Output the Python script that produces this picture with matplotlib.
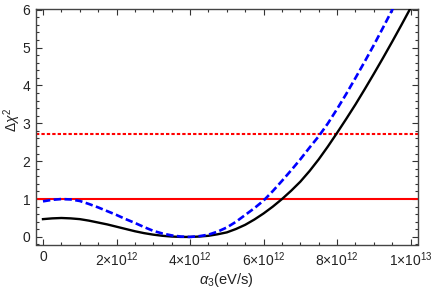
import numpy as np
import matplotlib
matplotlib.use("Agg")
import matplotlib.pyplot as plt
from matplotlib.ticker import MultipleLocator, FixedLocator

# alpha_3 grid (units of 1e12 eV/s)
alpha = [0.0, 0.25, 0.5, 0.75, 1.0, 1.25, 1.5, 1.75, 2.0, 2.25, 2.5, 2.75,
         3.0, 3.25, 3.5, 3.75, 4.0, 4.25, 4.5, 4.75, 5.0, 5.25, 5.5, 5.75,
         6.0, 6.25, 6.5, 6.75, 7.0, 7.25, 7.5, 7.75, 8.0, 8.25, 8.5, 8.75,
         9.0, 9.25, 9.5, 9.75, 10.0]
chi_black = [0.47, 0.49, 0.50, 0.49, 0.47, 0.43, 0.38, 0.33, 0.27, 0.21, 0.15,
             0.10, 0.06, 0.03, 0.01, 0.00, 0.00, 0.01, 0.03, 0.07, 0.12, 0.21,
             0.32, 0.46, 0.62, 0.80, 1.00, 1.22, 1.46, 1.74, 2.05, 2.39, 2.75,
             3.12, 3.50, 3.90, 4.31, 4.73, 5.16, 5.60, 6.05]
chi_blue = [0.94, 0.98, 1.00, 0.99, 0.95, 0.87, 0.78, 0.68, 0.58, 0.47, 0.37,
            0.26, 0.16, 0.09, 0.04, 0.01, 0.00, 0.02, 0.06, 0.14, 0.25, 0.40,
            0.58, 0.76, 0.96, 1.21, 1.48, 1.76, 2.05, 2.36, 2.66, 3.00, 3.38,
            3.78, 4.20, 4.63, 5.07, 5.53, 6.00, 6.50, 7.00]
levels = [1.0, 2.71]
xtick_vals = [0, 2, 4, 6, 8, 10]
xtick_labels = ["0", r"2$\times$10$^{12}$", r"4$\times$10$^{12}$",
                r"6$\times$10$^{12}$", r"8$\times$10$^{12}$", r"1$\times$10$^{13}$"]

plt.rcParams['font.family'] = ['Liberation Sans', 'DejaVu Sans']
plt.rcParams['mathtext.fontset'] = 'custom'
plt.rcParams['mathtext.rm'] = 'Liberation Sans'
plt.rcParams['mathtext.it'] = 'Liberation Sans:italic'

fig = plt.figure(figsize=(4.36, 2.92), dpi=100)
ax = fig.add_axes([36/436, 1 - 244.5/292, (418-36)/436, (244.5-9)/292])

x = np.array(alpha)
ax.plot(x, chi_black, color='black', lw=1.7, zorder=3)
ax.plot(x, chi_blue, color='#0000ff', lw=1.9, ls=(0, (2.8, 1.3)), zorder=3)
ax.axhline(levels[0], color='#ff0000', lw=1.5, zorder=2)
ax.axhline(levels[1], color='#ff0000', lw=1.5, ls=(0, (1.6, 1.0)), zorder=2)

ax.set_xlim(-0.19, 10.2)
ax.set_ylim(-0.2, 6.02)
ax.xaxis.set_major_locator(FixedLocator(xtick_vals))
ax.set_xticklabels(xtick_labels)
ax.xaxis.set_minor_locator(MultipleLocator(0.5))
ax.yaxis.set_major_locator(MultipleLocator(1))
ax.yaxis.set_minor_locator(MultipleLocator(0.2))

ax.tick_params(which='both', direction='in', top=True, right=True,
               labeltop=False, labelright=False, color='#333333',
               labelsize=10, labelcolor='#222222', width=0.8)
ax.tick_params(which='major', length=4, pad=4)
ax.tick_params(which='minor', length=2)
for s in ax.spines.values():
    s.set_color('#444444')
    s.set_linewidth(1.0)

ax.set_xlabel(r"$\alpha_3$(eV/s)", fontsize=10.5, color='#222222', va='top')
ax.xaxis.set_label_coords(0.497, -0.113)
ax.set_ylabel(r"$\Delta\chi^2$", fontsize=10, color='#222222',
              va='center', ha='center', rotation_mode='default')
ax.yaxis.set_label_coords(-0.062, 0.53)

fig.savefig("out.png", dpi=100)
